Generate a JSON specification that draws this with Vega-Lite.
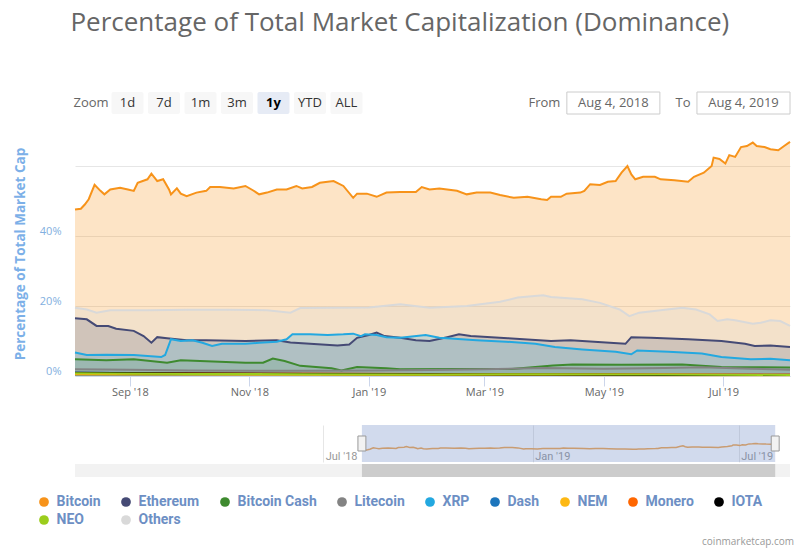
{
  "$schema": "https://vega.github.io/schema/vega-lite/v6.json",
  "background": "white",
  "padding": {"left": 13, "top": 9, "right": 10, "bottom": 6},
  "title": {"text": "coinmarketcap.com", "orient": "bottom", "anchor": "end", "fontSize": 10, "color": "#999999", "fontWeight": "normal", "font": "Open Sans", "offset": 10},
  "config": {
    "font": "Open Sans",
    "view": {"stroke": null},
    "legend": {"gridAlign": "none"}
  },
  "datasets": {
    "controls": [
      {"item": "Zoom"}, {"item": "1d"}, {"item": "7d"}, {"item": "1m"},
      {"item": "3m"}, {"item": "1y"}, {"item": "YTD"}, {"item": "ALL"}
    ],
    "dates": [
      {"slot": "from", "prefix": "From", "label": "Aug 4, 2018"},
      {"slot": "to", "prefix": "To", "label": "Aug 4, 2019"}
    ],
    "window": [
      {"start": "2018-08-04", "end": "2019-08-02"}
    ],
    "edges": [
      {"edge": "2018-08-04"}, {"edge": "2019-08-02"}
    ],
    "dominance": [
      {"coin": "Bitcoin", "date": "2018-08-04", "share": 47.6},
      {"coin": "Bitcoin", "date": "2018-08-07", "share": 47.8},
      {"coin": "Bitcoin", "date": "2018-08-09", "share": 49.0},
      {"coin": "Bitcoin", "date": "2018-08-11", "share": 50.5},
      {"coin": "Bitcoin", "date": "2018-08-14", "share": 54.6},
      {"coin": "Bitcoin", "date": "2018-08-17", "share": 52.9},
      {"coin": "Bitcoin", "date": "2018-08-19", "share": 51.9},
      {"coin": "Bitcoin", "date": "2018-08-22", "share": 53.3},
      {"coin": "Bitcoin", "date": "2018-08-27", "share": 53.8},
      {"coin": "Bitcoin", "date": "2018-08-31", "share": 53.3},
      {"coin": "Bitcoin", "date": "2018-09-03", "share": 52.9},
      {"coin": "Bitcoin", "date": "2018-09-05", "share": 55.2},
      {"coin": "Bitcoin", "date": "2018-09-10", "share": 56.2},
      {"coin": "Bitcoin", "date": "2018-09-12", "share": 57.8},
      {"coin": "Bitcoin", "date": "2018-09-15", "share": 55.7},
      {"coin": "Bitcoin", "date": "2018-09-18", "share": 56.2},
      {"coin": "Bitcoin", "date": "2018-09-21", "share": 53.3},
      {"coin": "Bitcoin", "date": "2018-09-22", "share": 51.9},
      {"coin": "Bitcoin", "date": "2018-09-25", "share": 53.6},
      {"coin": "Bitcoin", "date": "2018-09-27", "share": 52.1},
      {"coin": "Bitcoin", "date": "2018-09-30", "share": 51.4},
      {"coin": "Bitcoin", "date": "2018-10-05", "share": 52.4},
      {"coin": "Bitcoin", "date": "2018-10-10", "share": 52.9},
      {"coin": "Bitcoin", "date": "2018-10-12", "share": 54.0},
      {"coin": "Bitcoin", "date": "2018-10-17", "share": 54.0},
      {"coin": "Bitcoin", "date": "2018-10-24", "share": 53.6},
      {"coin": "Bitcoin", "date": "2018-10-30", "share": 54.3},
      {"coin": "Bitcoin", "date": "2018-11-03", "share": 53.0},
      {"coin": "Bitcoin", "date": "2018-11-06", "share": 51.9},
      {"coin": "Bitcoin", "date": "2018-11-10", "share": 52.4},
      {"coin": "Bitcoin", "date": "2018-11-15", "share": 53.3},
      {"coin": "Bitcoin", "date": "2018-11-20", "share": 53.3},
      {"coin": "Bitcoin", "date": "2018-11-25", "share": 54.3},
      {"coin": "Bitcoin", "date": "2018-11-28", "share": 53.6},
      {"coin": "Bitcoin", "date": "2018-12-03", "share": 54.0},
      {"coin": "Bitcoin", "date": "2018-12-07", "share": 55.2},
      {"coin": "Bitcoin", "date": "2018-12-11", "share": 55.5},
      {"coin": "Bitcoin", "date": "2018-12-14", "share": 55.7},
      {"coin": "Bitcoin", "date": "2018-12-19", "share": 54.3},
      {"coin": "Bitcoin", "date": "2018-12-24", "share": 50.9},
      {"coin": "Bitcoin", "date": "2018-12-26", "share": 52.1},
      {"coin": "Bitcoin", "date": "2018-12-31", "share": 52.1},
      {"coin": "Bitcoin", "date": "2019-01-05", "share": 51.2},
      {"coin": "Bitcoin", "date": "2019-01-10", "share": 52.4},
      {"coin": "Bitcoin", "date": "2019-01-17", "share": 52.6},
      {"coin": "Bitcoin", "date": "2019-01-25", "share": 52.6},
      {"coin": "Bitcoin", "date": "2019-01-28", "share": 54.0},
      {"coin": "Bitcoin", "date": "2019-02-01", "share": 53.3},
      {"coin": "Bitcoin", "date": "2019-02-06", "share": 53.6},
      {"coin": "Bitcoin", "date": "2019-02-15", "share": 52.9},
      {"coin": "Bitcoin", "date": "2019-02-20", "share": 51.9},
      {"coin": "Bitcoin", "date": "2019-02-25", "share": 52.4},
      {"coin": "Bitcoin", "date": "2019-03-04", "share": 52.4},
      {"coin": "Bitcoin", "date": "2019-03-09", "share": 51.7},
      {"coin": "Bitcoin", "date": "2019-03-16", "share": 50.9},
      {"coin": "Bitcoin", "date": "2019-03-23", "share": 51.2},
      {"coin": "Bitcoin", "date": "2019-03-30", "share": 50.5},
      {"coin": "Bitcoin", "date": "2019-04-02", "share": 50.3},
      {"coin": "Bitcoin", "date": "2019-04-04", "share": 51.2},
      {"coin": "Bitcoin", "date": "2019-04-09", "share": 51.2},
      {"coin": "Bitcoin", "date": "2019-04-12", "share": 52.1},
      {"coin": "Bitcoin", "date": "2019-04-19", "share": 52.4},
      {"coin": "Bitcoin", "date": "2019-04-21", "share": 52.9},
      {"coin": "Bitcoin", "date": "2019-04-24", "share": 54.8},
      {"coin": "Bitcoin", "date": "2019-04-29", "share": 54.6},
      {"coin": "Bitcoin", "date": "2019-05-03", "share": 55.5},
      {"coin": "Bitcoin", "date": "2019-05-07", "share": 55.7},
      {"coin": "Bitcoin", "date": "2019-05-10", "share": 58.1},
      {"coin": "Bitcoin", "date": "2019-05-13", "share": 60.0},
      {"coin": "Bitcoin", "date": "2019-05-15", "share": 57.6},
      {"coin": "Bitcoin", "date": "2019-05-17", "share": 56.2},
      {"coin": "Bitcoin", "date": "2019-05-21", "share": 56.9},
      {"coin": "Bitcoin", "date": "2019-05-27", "share": 56.9},
      {"coin": "Bitcoin", "date": "2019-05-30", "share": 56.2},
      {"coin": "Bitcoin", "date": "2019-06-06", "share": 55.9},
      {"coin": "Bitcoin", "date": "2019-06-13", "share": 55.5},
      {"coin": "Bitcoin", "date": "2019-06-16", "share": 56.9},
      {"coin": "Bitcoin", "date": "2019-06-21", "share": 58.1},
      {"coin": "Bitcoin", "date": "2019-06-25", "share": 60.0},
      {"coin": "Bitcoin", "date": "2019-06-26", "share": 62.4},
      {"coin": "Bitcoin", "date": "2019-06-29", "share": 62.0},
      {"coin": "Bitcoin", "date": "2019-07-02", "share": 60.7},
      {"coin": "Bitcoin", "date": "2019-07-04", "share": 63.1},
      {"coin": "Bitcoin", "date": "2019-07-07", "share": 62.6},
      {"coin": "Bitcoin", "date": "2019-07-10", "share": 65.4},
      {"coin": "Bitcoin", "date": "2019-07-13", "share": 65.7},
      {"coin": "Bitcoin", "date": "2019-07-16", "share": 66.7},
      {"coin": "Bitcoin", "date": "2019-07-18", "share": 65.7},
      {"coin": "Bitcoin", "date": "2019-07-22", "share": 65.4},
      {"coin": "Bitcoin", "date": "2019-07-25", "share": 64.8},
      {"coin": "Bitcoin", "date": "2019-07-29", "share": 64.5},
      {"coin": "Bitcoin", "date": "2019-08-01", "share": 65.7},
      {"coin": "Bitcoin", "date": "2019-08-04", "share": 66.9},

      {"coin": "Ethereum", "date": "2018-08-04", "share": 16.5},
      {"coin": "Ethereum", "date": "2018-08-10", "share": 16.2},
      {"coin": "Ethereum", "date": "2018-08-15", "share": 14.3},
      {"coin": "Ethereum", "date": "2018-08-21", "share": 14.3},
      {"coin": "Ethereum", "date": "2018-08-25", "share": 13.5},
      {"coin": "Ethereum", "date": "2018-09-03", "share": 12.9},
      {"coin": "Ethereum", "date": "2018-09-08", "share": 11.4},
      {"coin": "Ethereum", "date": "2018-09-12", "share": 9.5},
      {"coin": "Ethereum", "date": "2018-09-15", "share": 11.1},
      {"coin": "Ethereum", "date": "2018-09-20", "share": 10.8},
      {"coin": "Ethereum", "date": "2018-09-30", "share": 10.2},
      {"coin": "Ethereum", "date": "2018-10-10", "share": 10.2},
      {"coin": "Ethereum", "date": "2018-10-30", "share": 10.0},
      {"coin": "Ethereum", "date": "2018-11-15", "share": 10.2},
      {"coin": "Ethereum", "date": "2018-11-22", "share": 9.6},
      {"coin": "Ethereum", "date": "2018-12-08", "share": 9.0},
      {"coin": "Ethereum", "date": "2018-12-16", "share": 8.7},
      {"coin": "Ethereum", "date": "2018-12-22", "share": 9.0},
      {"coin": "Ethereum", "date": "2018-12-26", "share": 10.9},
      {"coin": "Ethereum", "date": "2019-01-01", "share": 11.7},
      {"coin": "Ethereum", "date": "2019-01-05", "share": 12.4},
      {"coin": "Ethereum", "date": "2019-01-09", "share": 11.4},
      {"coin": "Ethereum", "date": "2019-01-17", "share": 10.9},
      {"coin": "Ethereum", "date": "2019-01-25", "share": 10.2},
      {"coin": "Ethereum", "date": "2019-02-01", "share": 10.0},
      {"coin": "Ethereum", "date": "2019-02-10", "share": 11.1},
      {"coin": "Ethereum", "date": "2019-02-16", "share": 11.9},
      {"coin": "Ethereum", "date": "2019-02-22", "share": 11.4},
      {"coin": "Ethereum", "date": "2019-03-13", "share": 10.8},
      {"coin": "Ethereum", "date": "2019-04-04", "share": 10.0},
      {"coin": "Ethereum", "date": "2019-04-14", "share": 10.2},
      {"coin": "Ethereum", "date": "2019-05-04", "share": 9.5},
      {"coin": "Ethereum", "date": "2019-05-12", "share": 9.2},
      {"coin": "Ethereum", "date": "2019-05-15", "share": 11.1},
      {"coin": "Ethereum", "date": "2019-05-25", "share": 10.9},
      {"coin": "Ethereum", "date": "2019-06-13", "share": 10.5},
      {"coin": "Ethereum", "date": "2019-06-30", "share": 10.0},
      {"coin": "Ethereum", "date": "2019-07-12", "share": 9.2},
      {"coin": "Ethereum", "date": "2019-07-17", "share": 8.6},
      {"coin": "Ethereum", "date": "2019-07-25", "share": 8.7},
      {"coin": "Ethereum", "date": "2019-08-04", "share": 8.3},

      {"coin": "Bitcoin Cash", "date": "2018-08-04", "share": 4.8},
      {"coin": "Bitcoin Cash", "date": "2018-08-20", "share": 4.5},
      {"coin": "Bitcoin Cash", "date": "2018-09-03", "share": 4.8},
      {"coin": "Bitcoin Cash", "date": "2018-09-20", "share": 3.8},
      {"coin": "Bitcoin Cash", "date": "2018-09-27", "share": 4.5},
      {"coin": "Bitcoin Cash", "date": "2018-10-30", "share": 3.8},
      {"coin": "Bitcoin Cash", "date": "2018-11-08", "share": 3.8},
      {"coin": "Bitcoin Cash", "date": "2018-11-13", "share": 5.0},
      {"coin": "Bitcoin Cash", "date": "2018-11-19", "share": 4.3},
      {"coin": "Bitcoin Cash", "date": "2018-11-27", "share": 2.9},
      {"coin": "Bitcoin Cash", "date": "2018-12-13", "share": 2.2},
      {"coin": "Bitcoin Cash", "date": "2018-12-18", "share": 1.6},
      {"coin": "Bitcoin Cash", "date": "2018-12-26", "share": 2.6},
      {"coin": "Bitcoin Cash", "date": "2019-01-10", "share": 2.2},
      {"coin": "Bitcoin Cash", "date": "2019-01-17", "share": 1.9},
      {"coin": "Bitcoin Cash", "date": "2019-02-15", "share": 2.0},
      {"coin": "Bitcoin Cash", "date": "2019-03-15", "share": 2.0},
      {"coin": "Bitcoin Cash", "date": "2019-04-05", "share": 3.0},
      {"coin": "Bitcoin Cash", "date": "2019-04-15", "share": 3.3},
      {"coin": "Bitcoin Cash", "date": "2019-05-10", "share": 3.2},
      {"coin": "Bitcoin Cash", "date": "2019-06-10", "share": 3.3},
      {"coin": "Bitcoin Cash", "date": "2019-06-30", "share": 2.6},
      {"coin": "Bitcoin Cash", "date": "2019-08-04", "share": 2.4},

      {"coin": "Litecoin", "date": "2018-08-04", "share": 1.9},
      {"coin": "Litecoin", "date": "2018-09-01", "share": 1.8},
      {"coin": "Litecoin", "date": "2018-10-01", "share": 1.6},
      {"coin": "Litecoin", "date": "2018-11-01", "share": 1.5},
      {"coin": "Litecoin", "date": "2018-12-01", "share": 1.5},
      {"coin": "Litecoin", "date": "2019-01-01", "share": 1.6},
      {"coin": "Litecoin", "date": "2019-02-01", "share": 1.7},
      {"coin": "Litecoin", "date": "2019-03-01", "share": 1.9},
      {"coin": "Litecoin", "date": "2019-04-01", "share": 2.3},
      {"coin": "Litecoin", "date": "2019-05-01", "share": 2.1},
      {"coin": "Litecoin", "date": "2019-06-01", "share": 2.3},
      {"coin": "Litecoin", "date": "2019-06-20", "share": 2.5},
      {"coin": "Litecoin", "date": "2019-07-15", "share": 2.1},
      {"coin": "Litecoin", "date": "2019-08-04", "share": 1.8},

      {"coin": "XRP", "date": "2018-08-04", "share": 6.7},
      {"coin": "XRP", "date": "2018-08-10", "share": 6.0},
      {"coin": "XRP", "date": "2018-08-20", "share": 6.1},
      {"coin": "XRP", "date": "2018-09-03", "share": 6.0},
      {"coin": "XRP", "date": "2018-09-17", "share": 5.4},
      {"coin": "XRP", "date": "2018-09-19", "share": 6.0},
      {"coin": "XRP", "date": "2018-09-22", "share": 10.5},
      {"coin": "XRP", "date": "2018-09-27", "share": 10.0},
      {"coin": "XRP", "date": "2018-10-03", "share": 10.2},
      {"coin": "XRP", "date": "2018-10-08", "share": 9.5},
      {"coin": "XRP", "date": "2018-10-13", "share": 8.6},
      {"coin": "XRP", "date": "2018-10-18", "share": 9.2},
      {"coin": "XRP", "date": "2018-10-30", "share": 9.2},
      {"coin": "XRP", "date": "2018-11-06", "share": 9.5},
      {"coin": "XRP", "date": "2018-11-15", "share": 9.8},
      {"coin": "XRP", "date": "2018-11-20", "share": 10.5},
      {"coin": "XRP", "date": "2018-11-23", "share": 11.9},
      {"coin": "XRP", "date": "2018-12-02", "share": 11.9},
      {"coin": "XRP", "date": "2018-12-11", "share": 11.7},
      {"coin": "XRP", "date": "2018-12-19", "share": 11.9},
      {"coin": "XRP", "date": "2018-12-24", "share": 12.1},
      {"coin": "XRP", "date": "2018-12-28", "share": 11.4},
      {"coin": "XRP", "date": "2018-12-30", "share": 11.9},
      {"coin": "XRP", "date": "2019-01-05", "share": 11.7},
      {"coin": "XRP", "date": "2019-01-10", "share": 11.1},
      {"coin": "XRP", "date": "2019-01-17", "share": 10.9},
      {"coin": "XRP", "date": "2019-01-30", "share": 11.7},
      {"coin": "XRP", "date": "2019-02-06", "share": 10.9},
      {"coin": "XRP", "date": "2019-02-25", "share": 10.2},
      {"coin": "XRP", "date": "2019-03-12", "share": 9.8},
      {"coin": "XRP", "date": "2019-03-27", "share": 9.2},
      {"coin": "XRP", "date": "2019-04-06", "share": 8.3},
      {"coin": "XRP", "date": "2019-04-20", "share": 7.6},
      {"coin": "XRP", "date": "2019-05-07", "share": 6.9},
      {"coin": "XRP", "date": "2019-05-15", "share": 6.2},
      {"coin": "XRP", "date": "2019-05-18", "share": 7.3},
      {"coin": "XRP", "date": "2019-06-03", "share": 6.9},
      {"coin": "XRP", "date": "2019-06-20", "share": 6.4},
      {"coin": "XRP", "date": "2019-06-30", "share": 5.4},
      {"coin": "XRP", "date": "2019-07-15", "share": 4.8},
      {"coin": "XRP", "date": "2019-07-25", "share": 4.9},
      {"coin": "XRP", "date": "2019-08-04", "share": 4.5},

      {"coin": "Dash", "date": "2018-08-04", "share": 0.9},
      {"coin": "Dash", "date": "2018-10-01", "share": 0.8},
      {"coin": "Dash", "date": "2018-12-01", "share": 0.7},
      {"coin": "Dash", "date": "2019-02-01", "share": 0.5},
      {"coin": "Dash", "date": "2019-04-01", "share": 0.6},
      {"coin": "Dash", "date": "2019-06-01", "share": 0.5},
      {"coin": "Dash", "date": "2019-08-04", "share": 0.4},

      {"coin": "NEM", "date": "2018-08-04", "share": 0.6},
      {"coin": "NEM", "date": "2018-10-01", "share": 0.5},
      {"coin": "NEM", "date": "2018-12-01", "share": 0.4},
      {"coin": "NEM", "date": "2019-02-01", "share": 0.3},
      {"coin": "NEM", "date": "2019-04-01", "share": 0.3},
      {"coin": "NEM", "date": "2019-06-01", "share": 0.2},
      {"coin": "NEM", "date": "2019-08-04", "share": 0.2},

      {"coin": "Monero", "date": "2018-08-04", "share": 0.8},
      {"coin": "Monero", "date": "2018-10-01", "share": 0.8},
      {"coin": "Monero", "date": "2018-12-01", "share": 0.7},
      {"coin": "Monero", "date": "2019-02-01", "share": 0.6},
      {"coin": "Monero", "date": "2019-04-01", "share": 0.6},
      {"coin": "Monero", "date": "2019-06-01", "share": 0.5},
      {"coin": "Monero", "date": "2019-08-04", "share": 0.4},

      {"coin": "IOTA", "date": "2018-08-04", "share": 0.9},
      {"coin": "IOTA", "date": "2018-10-01", "share": 0.7},
      {"coin": "IOTA", "date": "2018-12-01", "share": 0.6},
      {"coin": "IOTA", "date": "2019-02-01", "share": 0.5},
      {"coin": "IOTA", "date": "2019-04-01", "share": 0.4},
      {"coin": "IOTA", "date": "2019-06-01", "share": 0.3},
      {"coin": "IOTA", "date": "2019-08-04", "share": 0.3},

      {"coin": "NEO", "date": "2018-08-04", "share": 0.8},
      {"coin": "NEO", "date": "2018-10-01", "share": 0.6},
      {"coin": "NEO", "date": "2018-12-01", "share": 0.5},
      {"coin": "NEO", "date": "2019-02-01", "share": 0.4},
      {"coin": "NEO", "date": "2019-04-01", "share": 0.5},
      {"coin": "NEO", "date": "2019-06-01", "share": 0.4},
      {"coin": "NEO", "date": "2019-08-04", "share": 0.3},

      {"coin": "Others", "date": "2018-08-04", "share": 19.5},
      {"coin": "Others", "date": "2018-08-10", "share": 19.0},
      {"coin": "Others", "date": "2018-08-15", "share": 18.1},
      {"coin": "Others", "date": "2018-08-22", "share": 18.8},
      {"coin": "Others", "date": "2018-09-10", "share": 18.8},
      {"coin": "Others", "date": "2018-10-01", "share": 18.9},
      {"coin": "Others", "date": "2018-10-20", "share": 18.9},
      {"coin": "Others", "date": "2018-11-10", "share": 18.8},
      {"coin": "Others", "date": "2018-11-22", "share": 18.1},
      {"coin": "Others", "date": "2018-11-27", "share": 19.4},
      {"coin": "Others", "date": "2018-12-15", "share": 19.5},
      {"coin": "Others", "date": "2019-01-01", "share": 19.6},
      {"coin": "Others", "date": "2019-01-17", "share": 20.5},
      {"coin": "Others", "date": "2019-02-01", "share": 19.5},
      {"coin": "Others", "date": "2019-02-20", "share": 20.0},
      {"coin": "Others", "date": "2019-03-09", "share": 21.2},
      {"coin": "Others", "date": "2019-03-18", "share": 22.4},
      {"coin": "Others", "date": "2019-03-31", "share": 23.1},
      {"coin": "Others", "date": "2019-04-04", "share": 22.6},
      {"coin": "Others", "date": "2019-04-20", "share": 21.9},
      {"coin": "Others", "date": "2019-04-29", "share": 20.9},
      {"coin": "Others", "date": "2019-05-09", "share": 19.0},
      {"coin": "Others", "date": "2019-05-14", "share": 17.1},
      {"coin": "Others", "date": "2019-05-19", "share": 18.1},
      {"coin": "Others", "date": "2019-05-30", "share": 18.8},
      {"coin": "Others", "date": "2019-06-10", "share": 19.5},
      {"coin": "Others", "date": "2019-06-17", "share": 19.0},
      {"coin": "Others", "date": "2019-06-24", "share": 17.6},
      {"coin": "Others", "date": "2019-06-28", "share": 15.7},
      {"coin": "Others", "date": "2019-07-03", "share": 16.2},
      {"coin": "Others", "date": "2019-07-07", "share": 15.9},
      {"coin": "Others", "date": "2019-07-16", "share": 14.9},
      {"coin": "Others", "date": "2019-07-20", "share": 15.2},
      {"coin": "Others", "date": "2019-07-25", "share": 15.9},
      {"coin": "Others", "date": "2019-07-30", "share": 15.7},
      {"coin": "Others", "date": "2019-08-04", "share": 14.3}
    ]
  },
  "spacing": 28,
  "vconcat": [
    {
      "spacing": 16,
      "vconcat": [
        {
          "width": 715,
          "height": 22,
          "title": {"text": "Percentage of Total Market Capitalization (Dominance)", "anchor": "start", "fontSize": 26, "fontWeight": "normal", "color": "#666666", "font": "Open Sans", "offset": 56, "dx": -3},
          "resolve": {"scale": {"x": "independent"}},
          "layer": [
            {
              "data": {"name": "controls"},
              "transform": [{"filter": "datum.item != 'Zoom'"}],
              "mark": {"type": "rect", "cornerRadius": 2},
              "encoding": {
                "x": {"field": "item", "type": "nominal", "axis": null, "scale": {"type": "band", "domain": ["Zoom", "1d", "7d", "1m", "3m", "1y", "YTD", "ALL", "s1", "s2", "s3", "s4", "s5", "s6", "s7", "s8", "s9", "s10", "s11"], "paddingInner": 0.123, "paddingOuter": 0.357, "align": 0}},
                "fill": {"condition": {"test": "datum.item == '1y'", "value": "#e6ebf5"}, "value": "#f7f7f7"}
              }
            },
            {
              "data": {"name": "controls"},
              "transform": [{"filter": "datum.item != '1y'"}],
              "mark": {"type": "text", "fontSize": 13, "baseline": "middle"},
              "encoding": {
                "x": {"field": "item", "type": "nominal", "axis": null, "scale": {"type": "band", "domain": ["Zoom", "1d", "7d", "1m", "3m", "1y", "YTD", "ALL", "s1", "s2", "s3", "s4", "s5", "s6", "s7", "s8", "s9", "s10", "s11"], "paddingInner": 0.123, "paddingOuter": 0.357, "align": 0}},
                "text": {"field": "item"},
                "color": {"condition": {"test": "datum.item == 'Zoom'", "value": "#666666"}, "value": "#333333"}
              }
            },
            {
              "data": {"name": "controls"},
              "transform": [{"filter": "datum.item == '1y'"}],
              "mark": {"type": "text", "fontSize": 13, "fontWeight": "bold", "baseline": "middle", "color": "#000000"},
              "encoding": {
                "x": {"field": "item", "type": "nominal", "axis": null, "scale": {"type": "band", "domain": ["Zoom", "1d", "7d", "1m", "3m", "1y", "YTD", "ALL", "s1", "s2", "s3", "s4", "s5", "s6", "s7", "s8", "s9", "s10", "s11"], "paddingInner": 0.123, "paddingOuter": 0.357, "align": 0}},
                "text": {"field": "item"}
              }
            },
            {
              "data": {"name": "dates"},
              "mark": {"type": "rect", "fill": "#ffffff", "stroke": "#cccccc", "strokeWidth": 1},
              "encoding": {
                "x": {"field": "slot", "type": "nominal", "axis": null, "scale": {"type": "band", "domain": ["d1", "d2", "d3", "from", "to"], "paddingInner": 0.285, "paddingOuter": 0.39, "align": 1}}
              }
            },
            {
              "data": {"name": "dates"},
              "mark": {"type": "text", "fontSize": 13, "baseline": "middle", "color": "#666666"},
              "encoding": {
                "x": {"field": "slot", "type": "nominal", "axis": null, "scale": {"type": "band", "domain": ["d1", "d2", "d3", "from", "to"], "paddingInner": 0.285, "paddingOuter": 0.39, "align": 1}},
                "text": {"field": "label"}
              }
            },
            {
              "data": {"name": "dates"},
              "mark": {"type": "text", "fontSize": 13, "baseline": "middle", "align": "right", "dx": -53, "color": "#666666"},
              "encoding": {
                "x": {"field": "slot", "type": "nominal", "axis": null, "scale": {"type": "band", "domain": ["d1", "d2", "d3", "from", "to"], "paddingInner": 0.285, "paddingOuter": 0.39, "align": 1}},
                "text": {"field": "prefix"}
              }
            }
          ]
        },
        {
          "width": 715,
          "height": 245,
          "data": {"name": "dominance"},
          "mark": {"type": "area", "fillOpacity": 0.25, "line": {"strokeWidth": 2}},
          "encoding": {
            "x": {
              "field": "date",
              "type": "temporal",
              "scale": {"domain": [{"year": 2018, "month": 8, "date": 4}, {"year": 2019, "month": 8, "date": 4}]},
              "axis": {
                "title": null,
                "values": [
                  {"year": 2018, "month": 9, "date": 1},
                  {"year": 2018, "month": 11, "date": 1},
                  {"year": 2019, "month": 1, "date": 1},
                  {"year": 2019, "month": 3, "date": 1},
                  {"year": 2019, "month": 5, "date": 1},
                  {"year": 2019, "month": 7, "date": 1}
                ],
                "format": "%b '%y",
                "grid": false,
                "domainColor": "#ccd6eb",
                "tickColor": "#ccd6eb",
                "tickSize": 10,
                "labelPadding": 0,
                "labelFontSize": 11,
                "labelColor": "#666666",
                "labelFlush": false
              }
            },
            "y": {
              "field": "share",
              "type": "quantitative",
              "stack": null,
              "scale": {"domain": [0, 70], "nice": false},
              "axis": {
                "title": "Percentage of Total Market Cap",
                "titleColor": "#7cb0e8",
                "titleFontSize": 13.5,
                "titleFontWeight": "bold",
                "titlePadding": 12,
                "values": [0, 20, 40, 60],
                "labelExpr": "datum.value < 60 ? datum.value + '%' : ''",
                "labelColor": "#82afe0",
                "labelFontSize": 11,
                "labelBaseline": "bottom",
                "labelPadding": 14,
                "grid": true,
                "gridColor": "#e6e6e6",
                "domain": false,
                "ticks": false
              }
            },
            "color": {
              "field": "coin",
              "type": "nominal",
              "scale": {
                "domain": ["Bitcoin", "Ethereum", "Bitcoin Cash", "Litecoin", "XRP", "Dash", "NEM", "Monero", "IOTA", "NEO", "Others"],
                "range": ["#f7931a", "#454a75", "#3e8a2f", "#838383", "#23a8e0", "#1c75bc", "#fdb813", "#ff6600", "#000000", "#9bcd1c", "#d9d9d9"]
              },
              "legend": {
                "orient": "none",
                "legendX": -38,
                "legendY": 403,
                "direction": "horizontal",
                "columns": 9,
                "gridAlign": "none",
                "title": null,
                "symbolType": "circle",
                "symbolSize": 95,
                "symbolOpacity": 1,
                "symbolStrokeWidth": 0,
                "labelFont": "Roboto",
                "labelFontSize": 14,
                "labelFontWeight": "bold",
                "labelColor": "#6d8fc4",
                "labelOffset": 5.5,
                "columnPadding": 18,
                "rowPadding": 4
              }
            }
          }
        }
      ]
    },
    {
      "spacing": 2,
      "vconcat": [
        {
          "width": 715,
          "height": 37,
          "layer": [
            {
              "data": {"name": "window"},
              "mark": {"type": "rect", "fill": "#6685c2", "opacity": 0.3},
              "encoding": {
                "x": {
                  "field": "start",
                  "type": "temporal",
                  "scale": {"domain": [{"year": 2017, "month": 11, "date": 25}, {"year": 2019, "month": 8, "date": 15}]},
                  "axis": {
                    "title": null,
                    "values": [
                      {"year": 2018, "month": 7, "date": 1},
                      {"year": 2019, "month": 1, "date": 1},
                      {"year": 2019, "month": 7, "date": 1}
                    ],
                    "format": "%b '%y",
                    "grid": true,
                    "gridColor": "#e6e6e6",
                    "domain": false,
                    "ticks": false,
                    "labelAlign": "left",
                    "labelBaseline": "alphabetic",
                    "labelPadding": -3,
                    "labelOffset": 2,
                    "labelFont": "Roboto",
                    "labelFontSize": 11,
                    "labelColor": "#999999",
                    "labelFlush": false
                  }
                },
                "x2": {"field": "end"}
              }
            },
            {
              "data": {"name": "dominance"},
              "transform": [{"filter": "datum.coin == 'Bitcoin'"}],
              "mark": {"type": "line", "color": "#c99c72", "strokeWidth": 1.5},
              "encoding": {
                "x": {"field": "date", "type": "temporal"},
                "y": {"field": "share", "type": "quantitative", "scale": {"domain": [15, 118], "nice": false, "zero": false}, "axis": null}
              }
            },
            {
              "mark": {"type": "rule", "color": "#cccccc", "strokeWidth": 1},
              "encoding": {"y": {"datum": 118}}
            },
            {
              "data": {"name": "edges"},
              "mark": {"type": "point", "shape": "M-0.53,-1H0.53V1H-0.53Z", "size": 225, "filled": true, "fill": "#f2f2f2", "stroke": "#999999", "strokeWidth": 1, "opacity": 1},
              "encoding": {
                "x": {"field": "edge", "type": "temporal"}
              }
            }
          ]
        },
        {
          "width": 715,
          "height": 13,
          "view": {"fill": "#f2f2f2", "stroke": null},
          "data": {"name": "window"},
          "mark": {"type": "rect", "fill": "#cccccc"},
          "encoding": {
            "x": {
              "field": "start",
              "type": "temporal",
              "scale": {"domain": [{"year": 2017, "month": 11, "date": 25}, {"year": 2019, "month": 8, "date": 15}]},
              "axis": null
            },
            "x2": {"field": "end"}
          }
        }
      ]
    }
  ]
}
